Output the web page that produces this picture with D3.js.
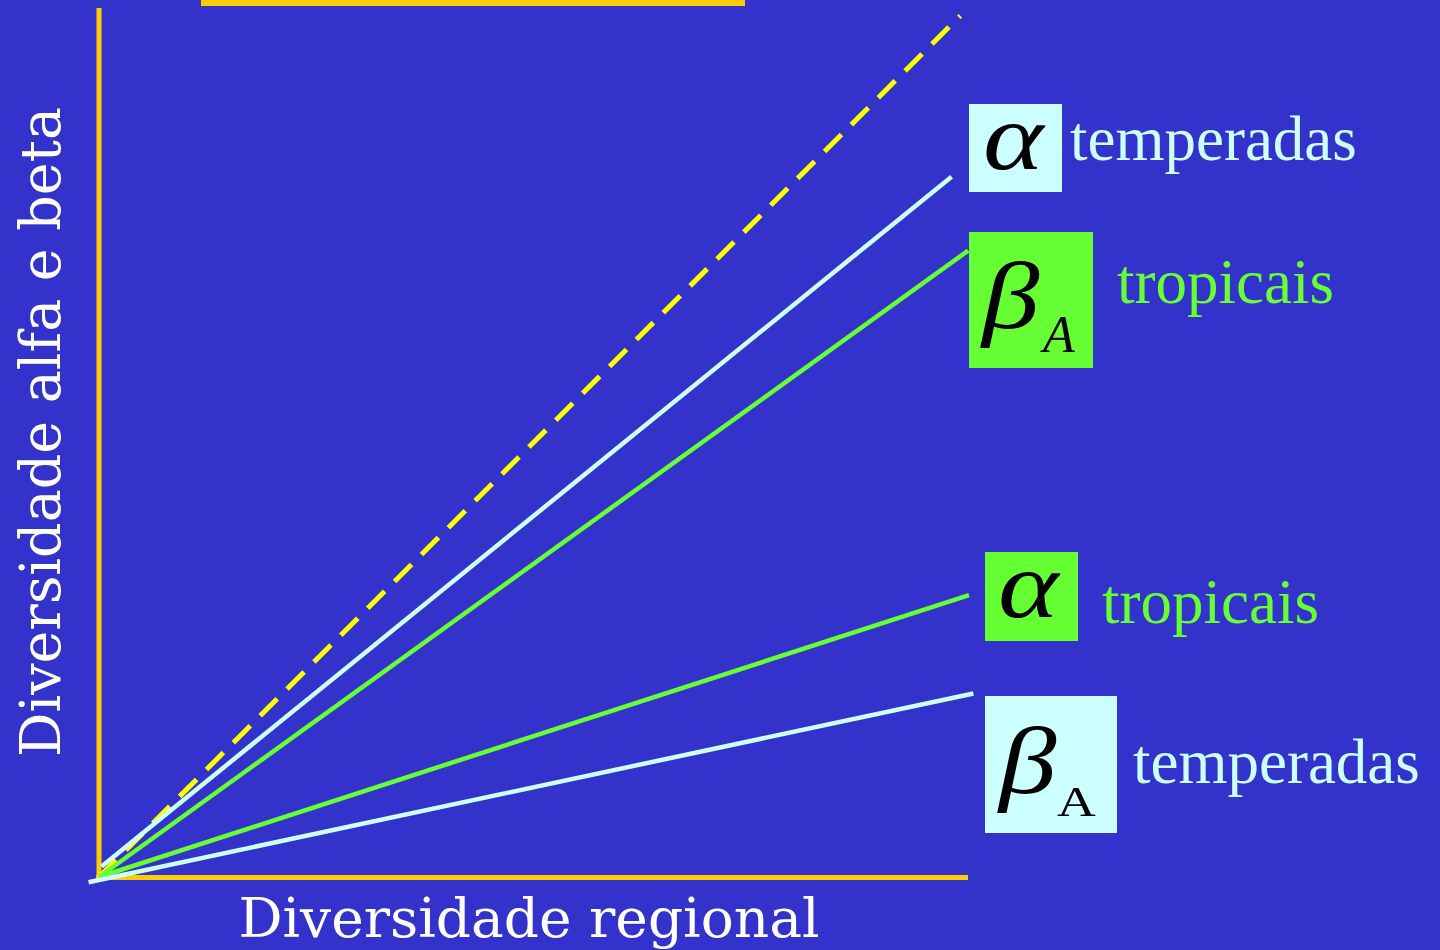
<!DOCTYPE html>
<html><head><meta charset="utf-8">
<script src="https://cdn.jsdelivr.net/npm/d3@7"></script>
<style>html,body{margin:0;padding:0;background:#3333CC;overflow:hidden}</style>
</head><body>
<svg id="c" width="1440" height="950"></svg>
<script>
// Data (arbitrary units: regional diversity vs alpha/beta diversity)
const seriesNames = ["referência 1:1", "α temperadas", "βA tropicais", "α tropicais", "βA temperadas"];
const seriesColors = ["#FFFF00", "#CCFFFF", "#66FF33", "#66FF33", "#CCFFFF"];
const startX = [0, 0.3, 0, 0, -1.2];
const startY = [0, 1.2, 0, 0, -0.6];
const endX = [99.0, 98.0, 99.9, 100.0, 100.5];
const endY = [99.0, 80.5, 72.0, 32.4, 21.1];
const xTitle = "Diversidade regional";
const yTitle = "Diversidade alfa e beta";

const svg = d3.select("#c");
svg.append("rect").attr("width",1440).attr("height",950).attr("fill","#3333CC");

const x = d3.scaleLinear().domain([0,100]).range([99,969]);
const y = d3.scaleLinear().domain([0,100]).range([877,7]);

// top decorative bar
svg.append("rect").attr("x",201).attr("y",0).attr("width",544).attr("height",6).attr("fill","#FFCC00");

// axes
svg.append("line").attr("x1",99).attr("x2",99).attr("y1",8).attr("y2",880)
  .attr("stroke","#FFCC00").attr("stroke-width",5);
svg.append("line").attr("x1",96).attr("x2",968).attr("y1",877.5).attr("y2",877.5)
  .attr("stroke","#FFCC00").attr("stroke-width",5);

// lines
const data = seriesNames.map((n,i)=>({n, c:seriesColors[i], x0:startX[i], y0:startY[i], x1:endX[i], y1:endY[i], dashed:i===0}));
svg.selectAll("line.s").data(data).enter().append("line").attr("class","s")
  .attr("x1",d=>x(d.x0)).attr("y1",d=>y(d.y0)).attr("x2",d=>x(d.x1)).attr("y2",d=>y(d.y1))
  .attr("stroke",d=>d.c).attr("stroke-width",d=>d.dashed?5:4.5)
  .attr("stroke-dasharray",d=>d.dashed?"24,14":null);

// axis titles
svg.append("text").attr("x",529).attr("y",937).attr("text-anchor","middle")
  .attr("font-family","DejaVu Serif").attr("font-size",55).attr("fill","#FFFFFF").text(xTitle);
svg.append("text").attr("transform","translate(60,432) rotate(-90)").attr("text-anchor","middle")
  .attr("font-family","DejaVu Serif").attr("font-size",55.5).attr("fill","#FFFFFF").text(yTitle);

// labels
const serif = "Liberation Serif, Times New Roman, serif";
function box(bx,by,bw,bh,fill){
  svg.append("rect").attr("x",bx).attr("y",by).attr("width",bw).attr("height",bh).attr("fill",fill);
}
function glyph(tx,ty,ch,size,italic,sx){
  return svg.append("text").attr("transform",`translate(${tx},${ty}) scale(${sx},1)`)
    .attr("font-family",serif).attr("font-style",italic?"italic":"normal")
    .attr("font-size",size).attr("fill","#000").text(ch);
}
function word(tx,ty,t,fill){
  svg.append("text").attr("x",tx).attr("y",ty).attr("font-family",serif)
    .attr("font-size",63).attr("fill",fill).text(t);
}
// α temperadas
box(969,104,93,88,"#CCFFFF");
glyph(983,169,"α",96,true,1.2);
word(1070,160,"temperadas","#CCFFFF");
// βA tropicais
box(969,232,124,136,"#66FF33");
glyph(982,328,"β",96,true,1.2);
glyph(1043,352,"A",52,true,1.0);
word(1117,303,"tropicais","#66FF33");
// α tropicais
box(985,552,93,89,"#66FF33");
glyph(998,617,"α",96,true,1.2);
word(1102,623,"tropicais","#66FF33");
// βA temperadas
box(985,696,132,137,"#CCFFFF");
glyph(999,793,"β",96,true,1.2);
glyph(1057,816,"A",43,false,1.25);
word(1133,783,"temperadas","#CCFFFF");
</script>
</body></html>
